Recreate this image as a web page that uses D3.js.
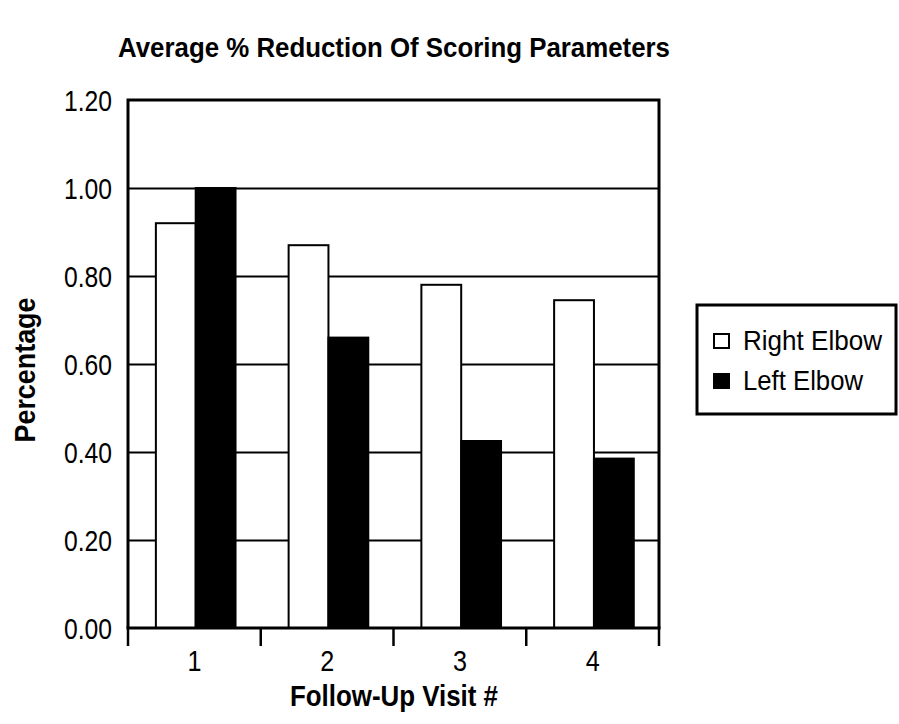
<!DOCTYPE html>
<html>
<head>
<meta charset="utf-8">
<script src="https://cdn.jsdelivr.net/npm/d3@7"></script>
<style>
  html, body { margin: 0; padding: 0; background: #fff; }
  svg { display: block; }
  text { font-family: "Liberation Sans", Arial, sans-serif; fill: #000; }
</style>
</head>
<body>
<svg id="chart" width="899" height="724"></svg>
<script>
const title = "Average % Reduction Of Scoring Parameters";
const xTitle = "Follow-Up Visit #";
const yTitle = "Percentage";
const categories = ["1", "2", "3", "4"];
const seriesNames = ["Right Elbow", "Left Elbow"];
const rightElbow = [0.92, 0.87, 0.78, 0.745];
const leftElbow = [1.00, 0.66, 0.425, 0.385];
const yTicks = [0, 0.2, 0.4, 0.6, 0.8, 1.0, 1.2];
const seriesFill = ["#ffffff", "#000000"];

const svg = d3.select("#chart");
const m = { left: 128, right: 659, top: 100, bottom: 628 };

const x0 = d3.scaleBand().domain(categories).range([m.left, m.right]).paddingInner(0).paddingOuter(0);
const bw = x0.bandwidth();
const x1 = d3.scaleBand().domain(seriesNames).range([bw * 0.21, bw * 0.81]).padding(0);
const y = d3.scaleLinear().domain([0, 1.2]).range([m.bottom, m.top]);

const rows = categories.map((c, i) => ({ cat: c, vals: [rightElbow[i], leftElbow[i]] }));

// gridlines
const grid = svg.append("g").attr("transform", `translate(${m.left},0)`)
  .call(d3.axisLeft(y).tickValues(yTicks.slice(1, -1)).tickSize(-(m.right - m.left)).tickFormat(""));
grid.select(".domain").remove();
grid.selectAll("line").attr("stroke", "#000").attr("stroke-width", 2.2);

// bars
const g = svg.append("g").selectAll("g").data(rows).join("g")
  .attr("transform", d => `translate(${x0(d.cat)},0)`);
g.selectAll("rect").data(d => d.vals.map((v, k) => ({ v, k })))
  .join("rect")
  .attr("x", d => x1(seriesNames[d.k]))
  .attr("width", x1.bandwidth())
  .attr("y", d => y(d.v))
  .attr("height", d => y(0) - y(d.v))
  .attr("fill", d => seriesFill[d.k])
  .attr("stroke", "#000")
  .attr("stroke-width", 2);

// plot frame
svg.append("path")
  .attr("d", `M${m.left},${m.bottom}V${m.top}H${m.right}V${m.bottom}`)
  .attr("fill", "none").attr("stroke", "#000").attr("stroke-width", 3);
svg.append("line").attr("x1", m.left - 1.5).attr("x2", m.right + 1.5)
  .attr("y1", m.bottom).attr("y2", m.bottom).attr("stroke", "#000").attr("stroke-width", 3);

// x boundary ticks
const bounds = categories.map(c => x0(c)).concat([x0(categories[categories.length - 1]) + bw]);
svg.append("g").selectAll("line").data(bounds).join("line")
  .attr("x1", d => d).attr("x2", d => d)
  .attr("y1", m.bottom).attr("y2", m.bottom + 18)
  .attr("stroke", "#000").attr("stroke-width", 2.5);

// x labels
const xa = svg.append("g").attr("transform", `translate(0,${m.bottom})`)
  .call(d3.axisBottom(x0).tickSize(0).tickPadding(0));
xa.select(".domain").remove();
xa.selectAll("text").attr("y", 43).attr("dy", null)
  .style("font-family", '"Liberation Sans", Arial, sans-serif')
  .attr("font-size", 30).attr("textLength", 14).attr("lengthAdjust", "spacingAndGlyphs");

// y labels
const ya = svg.append("g").attr("transform", `translate(${m.left},0)`)
  .call(d3.axisLeft(y).tickValues(yTicks).tickSize(0).tickPadding(16).tickFormat(d3.format(".2f")));
ya.select(".domain").remove();
ya.selectAll("text").attr("dy", "0.36em")
  .style("font-family", '"Liberation Sans", Arial, sans-serif')
  .attr("font-size", 30).attr("textLength", 48).attr("lengthAdjust", "spacingAndGlyphs");

// title
svg.append("text").attr("x", 118).attr("y", 57)
  .attr("font-size", 27).attr("font-weight", "bold")
  .attr("textLength", 552).attr("lengthAdjust", "spacingAndGlyphs")
  .text(title);

// x title
svg.append("text").attr("x", 394).attr("y", 706).attr("text-anchor", "middle")
  .attr("font-size", 29).attr("font-weight", "bold")
  .attr("textLength", 208).attr("lengthAdjust", "spacingAndGlyphs")
  .text(xTitle);

// y title
svg.append("text").attr("transform", "translate(35,370) rotate(-90)").attr("text-anchor", "middle")
  .attr("font-size", 29).attr("font-weight", "bold")
  .attr("textLength", 145).attr("lengthAdjust", "spacingAndGlyphs")
  .text(yTitle);

// legend
const leg = svg.append("g");
leg.append("rect").attr("x", 697).attr("y", 305).attr("width", 199).attr("height", 109)
  .attr("fill", "#fff").attr("stroke", "#000").attr("stroke-width", 3);
const legLens = [139, 120];
const items = leg.selectAll("g.item").data(seriesNames).join("g").attr("class", "item")
  .attr("transform", (d, i) => `translate(0,${i * 40})`);
items.append("rect").attr("x", 714).attr("y", 334).attr("width", 15).attr("height", 14)
  .attr("fill", (d, i) => seriesFill[i]).attr("stroke", "#000").attr("stroke-width", 2);
items.append("text").attr("x", 743).attr("y", 350).attr("font-size", 28)
  .attr("textLength", (d, i) => legLens[i]).attr("lengthAdjust", "spacingAndGlyphs")
  .text(d => d);
</script>
</body>
</html>
